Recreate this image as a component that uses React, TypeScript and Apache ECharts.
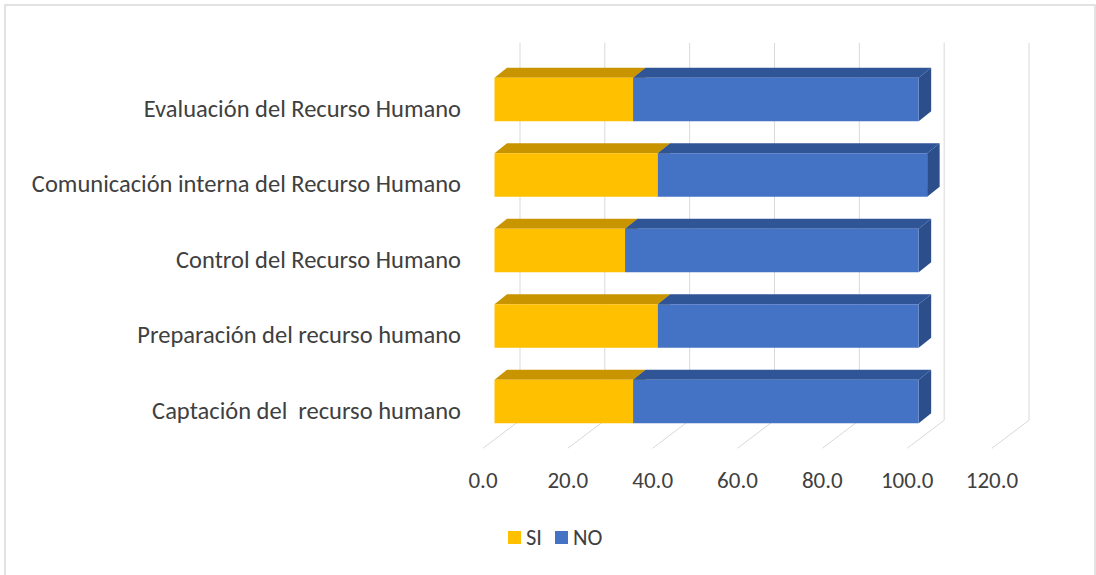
import React, { useEffect, useRef } from "react";
import * as echarts from "echarts";

// Categories, bottom to top on the category axis
const categories = [
  "Captación del  recurso humano",
  "Preparación del recurso humano",
  "Control del Recurso Humano",
  "Comunicación interna del Recurso Humano",
  "Evaluación del Recurso Humano",
];
const siValues = [32.7, 38.5, 30.8, 38.5, 32.7];
const noValues = [67.3, 61.5, 69.2, 63.5, 67.3];
const xTicks = [0, 20, 40, 60, 80, 100, 120];

// Oblique 3D projection offsets (pixels)
const WALL = [37, -28];
const BAR_FRONT = [11.5, -9];
const BAR_DEPTH = [12.5, -10];
const BAR_RATIO = 0.576;

const FONT = "Carlito, Calibri, Lato, sans-serif";
const TEXT_COLOR = "#404040";
const GRID_COLOR = "#d9d9d9";

type Faces = { front: string; top: string; side: string };

function barRenderer(colors: Faces) {
  return (params: any, api: any) => {
    const cat = api.value(0);
    const start = api.value(1);
    const end = api.value(2);
    const p0 = api.coord([start, cat]);
    const p1 = api.coord([end, cat]);
    const band = api.size([0, 1])[1];
    const h = band * BAR_RATIO;
    const xl = p0[0] + BAR_FRONT[0];
    const xr = p1[0] + BAR_FRONT[0];
    const yt = p0[1] + BAR_FRONT[1] - h / 2;
    const yb = yt + h;
    const [dx, dy] = BAR_DEPTH;
    return {
      type: "group",
      children: [
        {
          type: "polygon",
          shape: { points: [[xl, yt], [xr, yt], [xr + dx, yt + dy], [xl + dx, yt + dy]] },
          style: { fill: colors.top },
        },
        {
          type: "polygon",
          shape: { points: [[xr, yt], [xr + dx, yt + dy], [xr + dx, yb + dy], [xr, yb]] },
          style: { fill: colors.side },
        },
        {
          type: "rect",
          shape: { x: xl, y: yt, width: xr - xl, height: h },
          style: { fill: colors.front },
        },
      ],
    };
  };
}

function gridRenderer(params: any, api: any) {
  const v = api.value(0);
  const cs = params.coordSys;
  const x = api.coord([v, 0])[0];
  const yFront = cs.y + cs.height;
  const [wx, wy] = WALL;
  const style = { stroke: GRID_COLOR, lineWidth: 1 };
  return {
    type: "group",
    children: [
      { type: "line", shape: { x1: x, y1: yFront, x2: x + wx, y2: yFront + wy }, style },
      { type: "line", shape: { x1: x + wx, y1: yFront + wy, x2: x + wx, y2: cs.y + wy }, style },
    ],
  };
}

export default function App() {
  const ref = useRef<HTMLDivElement>(null);

  useEffect(() => {
    document.body.style.margin = "0";
    if (!ref.current) return;
    const chart = echarts.init(ref.current, undefined, { renderer: "svg" });

    const siData = categories.map((_, i) => [i, 0, siValues[i]]);
    const noData = categories.map((_, i) => [i, siValues[i], siValues[i] + noValues[i]]);

    chart.setOption({
      animation: false,
      backgroundColor: "#ffffff",
      textStyle: { fontFamily: FONT },
      grid: {
        left: 483,
        right: 104,
        top: 70.75,
        bottom: 126.75,
        containLabel: false,
        outerBoundsMode: "none",
      },
      xAxis: {
        type: "value",
        min: 0,
        max: 120,
        interval: 20,
        axisLine: { show: false },
        axisTick: { show: false },
        splitLine: { show: false },
        axisLabel: {
          fontSize: 23,
          color: TEXT_COLOR,
          fontFamily: FONT,
          margin: 20,
          formatter: (v: number) => v.toFixed(1),
        },
      },
      yAxis: {
        type: "category",
        data: categories,
        axisLine: { show: false },
        axisTick: { show: false },
        splitLine: { show: false },
        axisLabel: { fontSize: 24.5, color: TEXT_COLOR, fontFamily: FONT, margin: 22, padding: [4, 0, 0, 0] },
      },
      legend: {
        data: ["SI", "NO"],
        left: 503,
        top: 521,
        icon: "rect",
        itemWidth: 13,
        itemHeight: 13,
        itemGap: 13,
        textStyle: { fontSize: 22.5, color: TEXT_COLOR, fontFamily: FONT },
      },
      graphic: [
        {
          type: "rect",
          silent: true,
          shape: { x: 5, y: 5, width: 1090, height: 580 },
          style: { fill: "none", stroke: GRID_COLOR, lineWidth: 1.5 },
        },
      ],
      series: [
        {
          type: "custom",
          name: "grid",
          silent: true,
          z: 1,
          renderItem: gridRenderer,
          encode: { x: 0, y: 1 },
          data: xTicks.map((v) => [v, 0]),
        },
        {
          type: "custom",
          name: "SI",
          z: 2,
          itemStyle: { color: "#FFC000" },
          renderItem: barRenderer({ front: "#FFC000", top: "#C89500", side: "#B88A00" }),
          encode: { x: [1, 2], y: 0 },
          data: siData,
        },
        {
          type: "custom",
          name: "NO",
          z: 3,
          itemStyle: { color: "#4472C4" },
          renderItem: barRenderer({ front: "#4472C4", top: "#2F5597", side: "#2C4F8C" }),
          encode: { x: [1, 2], y: 0 },
          data: noData,
        },
      ],
    });

    return () => chart.dispose();
  }, []);

  return <div ref={ref} style={{ width: 1096, height: 575 }} />;
}
